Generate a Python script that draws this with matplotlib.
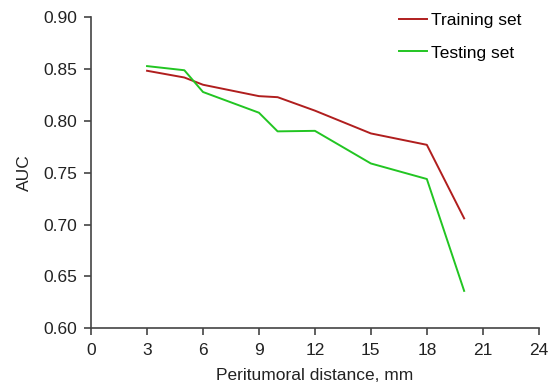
import numpy as np
import matplotlib
matplotlib.use("Agg")
import matplotlib.pyplot as plt

plt.rcParams['font.family'] = ['Liberation Sans', 'DejaVu Sans']

# distances (mm)
x = [3, 5, 6, 9, 10, 12, 15, 18, 20]
train_auc = [0.8485, 0.842, 0.835, 0.824, 0.823, 0.810, 0.788, 0.777, 0.706]
test_auc = [0.853, 0.849, 0.828, 0.808, 0.790, 0.7905, 0.759, 0.744, 0.636]

xticks = [0, 3, 6, 9, 12, 15, 18, 21, 24]
yticks = [0.60, 0.65, 0.70, 0.75, 0.80, 0.85, 0.90]

fig = plt.figure(figsize=(5.52, 3.87), dpi=100)
ax = fig.add_axes([0.165, 0.152, 0.811, 0.803])

ax.plot(x, train_auc, color='#b01e1e', lw=1.4, label='Training set')
ax.plot(x, test_auc, color='#22c522', lw=1.4, label='Testing set')

ax.set_xlim(0, 24)
ax.set_ylim(0.60, 0.90)
ax.set_xticks(xticks)
ax.set_yticks(yticks)
ax.set_yticklabels([f"{v:.2f}" for v in yticks])

for s in ['top', 'right']:
    ax.spines[s].set_visible(False)
for s in ['left', 'bottom']:
    ax.spines[s].set_color('#444444')
    ax.spines[s].set_linewidth(1.2)
ax.tick_params(colors='#444444', labelcolor='#222222', labelsize=12.5, width=1.2, length=5)
ax.tick_params(axis='x', pad=6)
ax.tick_params(axis='y', pad=5)

ax.set_xlabel('Peritumoral distance, mm', fontsize=12.5, color='#222222', labelpad=7)
ax.set_ylabel('AUC', fontsize=12.5, color='#222222', labelpad=8)

ax.legend(loc='upper right', frameon=False, fontsize=12.5, handlelength=1.6,
          handletextpad=0.2, labelspacing=1.0, bbox_to_anchor=(0.995, 1.065))

fig.savefig('out.png', dpi=100)
